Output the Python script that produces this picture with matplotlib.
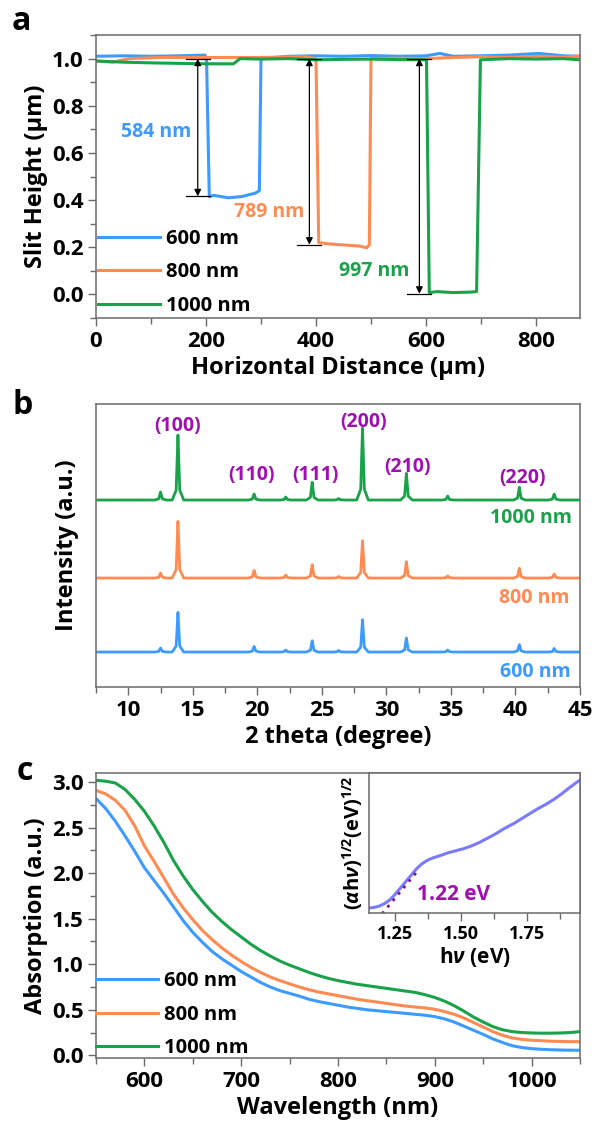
import numpy as np
import matplotlib.pyplot as plt
from matplotlib.ticker import MultipleLocator, FormatStrFormatter

plt.rcParams['font.family'] = ['Open Sans', 'DejaVu Sans']
plt.rcParams['font.weight'] = 'bold'
plt.rcParams['axes.labelweight'] = 'bold'
plt.rcParams['mathtext.fontset'] = 'custom'
plt.rcParams['mathtext.rm'] = 'Open Sans:bold'
plt.rcParams['mathtext.it'] = 'Open Sans:bold:italic'
plt.rcParams['mathtext.bf'] = 'Open Sans:bold'
plt.rcParams['mathtext.fallback'] = 'stixsans'

# -------------------------
# Data
# -------------------------
labels = ["600 nm", "800 nm", "1000 nm"]
colors = ["#3d9bff", "#ff8a52", "#19a24a"]
purple = "#a010b0"

# (a) profilometer traces across the slits
prof_x_600 = [0, 50, 100, 150, 198, 201, 206, 215, 240, 265, 290, 297, 300, 350, 400,
              450, 500, 550, 600, 625, 650, 700, 750, 805, 850, 880]
prof_y_600 = [1.010, 1.012, 1.010, 1.012, 1.015, 1.000, 0.415, 0.420, 0.410, 0.415, 0.430,
              0.440, 1.000, 1.010, 1.012, 1.010, 1.013, 1.010, 1.012, 1.022, 1.010, 1.012,
              1.015, 1.022, 1.012, 1.010]
prof_x_800 = [0, 30, 60, 120, 200, 300, 380, 400, 405, 420, 450, 480, 492, 497, 500,
              550, 600, 650, 700, 750, 800, 850, 880]
prof_y_800 = [0.990, 0.985, 1.000, 1.005, 1.005, 1.005, 1.008, 1.000, 0.220, 0.215, 0.210,
              0.205, 0.198, 0.210, 1.000, 1.002, 1.000, 1.005, 1.008, 1.005, 1.010, 1.006,
              1.012]
prof_x_1000 = [0, 50, 100, 150, 200, 250, 262, 300, 350, 400, 450, 500, 550, 598, 601,
               606, 620, 650, 680, 692, 699, 750, 800, 850, 880]
prof_y_1000 = [0.990, 0.985, 0.982, 0.980, 0.978, 0.978, 1.000, 0.998, 1.000, 0.995, 0.997,
               0.998, 0.996, 0.995, 0.990, 0.008, 0.012, 0.008, 0.010, 0.012, 0.995, 1.000,
               0.998, 1.000, 0.995]
slit_depth_nm = [584, 789, 997]
arrow_x = [185, 388, 588]
depth_label_xy = [(110, 0.69), (314, 0.35), (505, 0.10)]

# (b) XRD peak table: 2theta positions and peak heights above each baseline
peak_pos = [12.5, 13.85, 19.75, 22.2, 24.25, 26.3, 28.15, 31.55, 34.75, 40.3, 43.0]
peak_h_600 = [4, 39.6, 5.6, 2, 11.3, 1.5, 32.3, 14, 2, 7.3, 3.5]
peak_h_800 = [5, 56.6, 7.6, 3, 13.3, 1.5, 37.3, 16.3, 2, 9.7, 4]
peak_h_1000 = [8, 65, 6, 3, 17.7, 1.5, 72, 26.7, 4, 12.7, 6]
baselines = [35, 109, 187]
hkl = ["(100)", "(110)", "(111)", "(200)", "(210)", "(220)"]
hkl_xy = [(13.85, 261), (19.55, 212), (24.5, 212), (28.2, 265), (31.6, 220), (40.55, 209)]
xrd_label_xy = [(44.3, 15), (44.2, 89), (44.4, 169)]

# (c) absorption spectra
wavelength = list(range(550, 1051, 10))
abs_600 = [2.82, 2.71, 2.57, 2.41, 2.24, 2.06, 1.92, 1.78, 1.63, 1.48, 1.35, 1.24, 1.14,
           1.06, 0.99, 0.92, 0.86, 0.80, 0.75, 0.71, 0.68, 0.65, 0.615, 0.59, 0.57, 0.55,
           0.53, 0.515, 0.50, 0.49, 0.48, 0.47, 0.46, 0.45, 0.44, 0.425, 0.40, 0.365, 0.32,
           0.275, 0.23, 0.18, 0.14, 0.105, 0.085, 0.073, 0.066, 0.061, 0.058, 0.056, 0.055]
abs_800 = [2.91, 2.87, 2.80, 2.69, 2.52, 2.30, 2.13, 1.95, 1.77, 1.62, 1.49, 1.37, 1.27,
           1.18, 1.10, 1.03, 0.965, 0.91, 0.86, 0.82, 0.785, 0.75, 0.72, 0.695, 0.675,
           0.655, 0.635, 0.615, 0.60, 0.585, 0.57, 0.555, 0.54, 0.53, 0.52, 0.505, 0.48,
           0.45, 0.41, 0.36, 0.31, 0.26, 0.22, 0.19, 0.175, 0.165, 0.16, 0.155, 0.152, 0.15,
           0.15]
abs_1000 = [3.02, 3.01, 2.99, 2.92, 2.81, 2.68, 2.52, 2.34, 2.14, 1.97, 1.82, 1.69, 1.57,
            1.47, 1.38, 1.30, 1.22, 1.15, 1.09, 1.035, 0.99, 0.95, 0.91, 0.875, 0.845,
            0.82, 0.80, 0.78, 0.765, 0.75, 0.735, 0.72, 0.705, 0.69, 0.665, 0.635, 0.595,
            0.545, 0.485, 0.42, 0.365, 0.315, 0.28, 0.26, 0.25, 0.245, 0.243, 0.243, 0.245,
            0.25, 0.26]

# inset: Tauc plot
tauc_e = [1.152, 1.17, 1.19, 1.21, 1.23, 1.25, 1.27, 1.29, 1.31, 1.33, 1.35, 1.37, 1.39,
          1.42, 1.45, 1.48, 1.51, 1.54, 1.57, 1.60, 1.63, 1.66, 1.70, 1.73, 1.76, 1.79,
          1.82, 1.85, 1.88, 1.91, 1.95]
tauc_y = [0.036, 0.04, 0.05, 0.068, 0.095, 0.135, 0.18, 0.225, 0.27, 0.315, 0.35, 0.375,
          0.392, 0.41, 0.43, 0.445, 0.46, 0.48, 0.505, 0.535, 0.565, 0.60, 0.64, 0.675,
          0.71, 0.745, 0.775, 0.81, 0.85, 0.895, 0.95]
band_gap = 1.22
tangent_e = [1.20, 1.33]
tangent_y = [-0.005, 0.29]

gray = "#6a6a6a"


def style_axes(ax, size=16):
    for s in ax.spines.values():
        s.set_color(gray)
        s.set_linewidth(1.1)
    ax.tick_params(which="both", direction="out", color=gray, labelsize=size,
                   top=False, right=False, width=1.0)
    ax.tick_params(which="major", length=6, pad=3)
    ax.tick_params(which="minor", length=4)


fig = plt.figure(figsize=(5.97, 11.27), dpi=100)

# -------------------------
# a) slit depth profiles
# -------------------------
ax1 = fig.add_axes([0.1608, 0.7178, 0.8107, 0.2511])
profiles = [(prof_x_600, prof_y_600), (prof_x_800, prof_y_800), (prof_x_1000, prof_y_1000)]
for (px, py), c, lab in zip(profiles, colors, labels):
    ax1.plot(px, py, color=c, lw=2.2, label=lab)

for d, xa, c, (tx, ty) in zip(slit_depth_nm, arrow_x, colors, depth_label_xy):
    bottom = 1.0 - d / 1000
    ax1.annotate("", xy=(xa, bottom), xytext=(xa, 1.0),
                 arrowprops=dict(arrowstyle="<|-|>", color="black", lw=0.9,
                                 mutation_scale=10, shrinkA=0, shrinkB=0))
    ax1.plot([xa - 22, xa + 22], [1.0, 1.0], color="black", lw=0.9)
    ax1.plot([xa - 22, xa + 22], [bottom, bottom], color="black", lw=0.9)
    ax1.text(tx, ty, f"{d} nm", color=c, fontsize=14, ha="center", va="center")

ax1.set_xlim(0, 880)
ax1.set_ylim(-0.1, 1.1)
ax1.xaxis.set_major_locator(MultipleLocator(200))
ax1.xaxis.set_minor_locator(MultipleLocator(100))
ax1.yaxis.set_major_locator(MultipleLocator(0.2))
ax1.yaxis.set_minor_locator(MultipleLocator(0.1))
ax1.yaxis.set_major_formatter(FormatStrFormatter("%.1f"))
style_axes(ax1)
ax1.set_xlabel("Horizontal Distance (\u03bcm)", fontsize=17, labelpad=3)
ax1.set_ylabel("Slit Height (\u03bcm)", fontsize=17, labelpad=3)
ax1.legend(loc="lower left", bbox_to_anchor=(0.0, 0.0), frameon=False, fontsize=14.5,
           handlelength=3.1, handletextpad=0.3, labelspacing=0.68, borderaxespad=0.0,
           borderpad=0.1)

# -------------------------
# b) XRD patterns
# -------------------------
ax2 = fig.add_axes([0.1608, 0.3904, 0.8107, 0.2511])
shape_dx = [-0.45, -0.14, -0.05, 0.0, 0.05, 0.14, 0.45]
shape_f = [0.0, 0.15, 0.7, 1.0, 0.7, 0.15, 0.0]
for heights, base, c in zip([peak_h_600, peak_h_800, peak_h_1000], baselines, colors):
    xs, ys = [7.5], [base]
    for p, h in zip(peak_pos, heights):
        xs += [p + dx for dx in shape_dx]
        ys += [base + h * f for f in shape_f]
    xs.append(45)
    ys.append(base)
    ax2.plot(xs, ys, color=c, lw=2.0)

for t, (x, y) in zip(hkl, hkl_xy):
    ax2.text(x, y, t, color=purple, fontsize=14, ha="center", va="center")
for lab, c, (x, y) in zip(labels, colors, xrd_label_xy):
    ax2.text(x, y, lab, color=c, fontsize=14, ha="right", va="center")

ax2.set_xlim(7.5, 45)
ax2.set_ylim(0, 283)
ax2.xaxis.set_major_locator(MultipleLocator(5))
ax2.xaxis.set_minor_locator(MultipleLocator(2.5))
ax2.set_yticks([])
style_axes(ax2)
ax2.set_xlabel("2 theta (degree)", fontsize=17, labelpad=3)
ax2.set_ylabel("Intensity (a.u.)", fontsize=17, labelpad=12)

# -------------------------
# c) absorption spectra + Tauc inset
# -------------------------
ax3 = fig.add_axes([0.1608, 0.0612, 0.8107, 0.2529])
for spec, c, lab in zip([abs_600, abs_800, abs_1000], colors, labels):
    ax3.plot(wavelength, spec, color=c, lw=2.2, label=lab)
ax3.set_xlim(550, 1050)
ax3.set_ylim(-0.03, 3.1)
ax3.xaxis.set_major_locator(MultipleLocator(100))
ax3.xaxis.set_minor_locator(MultipleLocator(50))
ax3.yaxis.set_major_locator(MultipleLocator(0.5))
ax3.yaxis.set_minor_locator(MultipleLocator(0.25))
ax3.yaxis.set_major_formatter(FormatStrFormatter("%.1f"))
style_axes(ax3)
ax3.set_xlabel("Wavelength (nm)", fontsize=17, labelpad=3)
ax3.set_ylabel("Absorption (a.u.)", fontsize=17, labelpad=3)
ax3.legend(loc="lower left", bbox_to_anchor=(0.0, 0.0), frameon=False, fontsize=14.5,
           handlelength=3.1, handletextpad=0.3, labelspacing=0.66, borderaxespad=0.0,
           borderpad=0.0)

ins = fig.add_axes([0.618, 0.1899, 0.3534, 0.1242])
ins.plot(tauc_e, tauc_y, color="#7b7bff", lw=2.2)
ins.plot(tangent_e, tangent_y, color="#80108a", lw=2.0, ls=(0, (1, 2)))
ins.text(1.334, 0.13, f"{band_gap:.2f} eV", color=purple, fontsize=15, ha="left",
         va="center")
ins.set_xlim(1.15, 1.95)
ins.set_ylim(0, 1)
ins.xaxis.set_major_locator(MultipleLocator(0.25))
ins.xaxis.set_minor_locator(MultipleLocator(0.125))
ins.xaxis.set_major_formatter(FormatStrFormatter("%.2f"))
ins.set_yticks([])
style_axes(ins, size=13)
ins.set_xlabel(r"h$\it{\nu}$ (eV)", fontsize=15, labelpad=1)
ins.set_ylabel(r"($\alpha$h$\nu$)$^{1/2}$(eV)$^{1/2}$", fontsize=14.5, labelpad=3)

# panel letters
fig.text(21 / 597, 1 - 22 / 1127, "a", fontsize=23, ha="center", va="center")
fig.text(23 / 597, 1 - 405 / 1127, "b", fontsize=23, ha="center", va="center")
fig.text(25 / 597, 1 - 772 / 1127, "c", fontsize=23, ha="center", va="center")

fig.savefig("out.png", dpi=100)
